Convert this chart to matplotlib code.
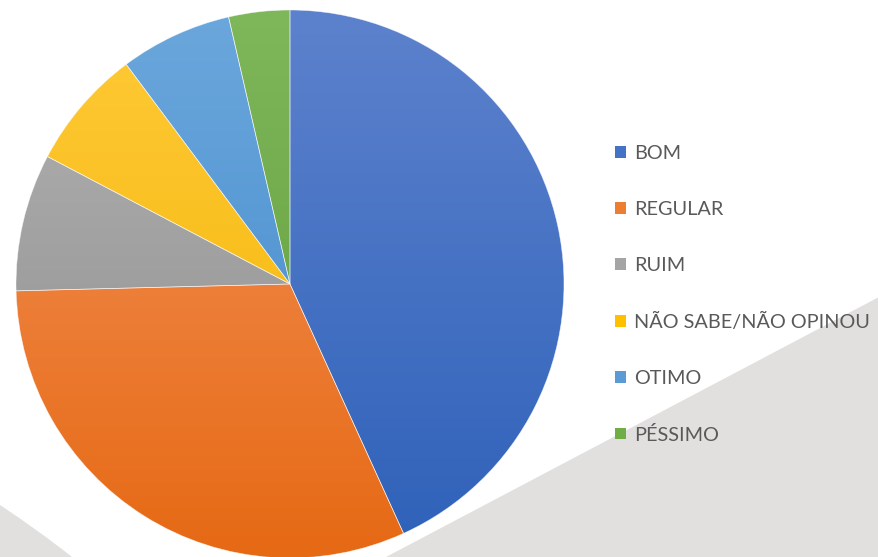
import matplotlib
matplotlib.use("Agg")
import matplotlib.pyplot as plt
import numpy as np
from matplotlib.colors import LinearSegmentedColormap
from matplotlib.patches import Patch, Polygon
from matplotlib.path import Path
from matplotlib.patches import PathPatch

labels = ["BOM", "REGULAR", "RUIM", "NÃO SABE/NÃO OPINOU", "OTIMO", "PÉSSIMO"]
shares = [43.2, 31.4, 8.1, 7.1, 6.6, 3.6]

# (top, bottom) of the vertical shading for each slice
shades = [("#5d82cd", "#2e61b9"),
          ("#f4955f", "#e66914"),
          ("#b3b3b3", "#8b8b8b"),
          ("#ffca38", "#f2b300"),
          ("#6ba7dc", "#3f87cb"),
          ("#7fb75b", "#5d9b37")]
flat = ["#4472c4", "#ed7d31", "#a5a5a5", "#ffc000", "#5b9bd5", "#70ad47"]

W, H = 879, 557
fig = plt.figure(figsize=(W / 100, H / 100), dpi=100)
fig.patch.set_facecolor("white")

# backdrop: grey swoosh behind the chart
bg = fig.add_axes([0, 0, 1, 1])
bg.set_xlim(0, W)
bg.set_ylim(H, 0)
bg.axis("off")
grey = "#e1e0de"
bg.add_patch(Polygon([(879, 297), (879, 557), (386, 557)], closed=True,
                     facecolor=grey, edgecolor="none"))
swoosh = Path([(0, 505), (38, 530), (72, 557), (0, 557), (0, 505)],
              [Path.MOVETO, Path.CURVE3, Path.CURVE3, Path.LINETO, Path.CLOSEPOLY])
bg.add_patch(PathPatch(swoosh, facecolor=grey, edgecolor="none"))

# pie, centre (290, 284) px, radius 274 px
cx, cy, r = 290, 284, 274
ax = fig.add_axes([(cx - r) / W, (H - cy - r) / H, 2 * r / W, 2 * r / H])
wedges, _ = ax.pie(shares, startangle=90, counterclock=False, radius=1,
                   wedgeprops=dict(edgecolor=(1, 1, 1, 0.6), linewidth=0.5))
ax.set_xlim(-1, 1)
ax.set_ylim(-1, 1)
ax.set_aspect("equal")
ax.axis("off")

grad = np.linspace(0, 1, 256).reshape(-1, 1)
for w, (top, bot) in zip(wedges, shades):
    cmap = LinearSegmentedColormap.from_list("s", [top, bot])
    im = ax.imshow(grad, cmap=cmap, extent=[-1, 1, -1, 1], origin="upper",
                   aspect="auto", zorder=0.5, interpolation="bilinear")
    im.set_clip_path(w)
    w.set_facecolor("none")
    w.set_zorder(1)

handles = [Patch(facecolor=c, edgecolor="none") for c in flat]
leg = fig.legend(handles, labels, loc="upper left",
                 bbox_to_anchor=(615 / W, 1 - 145 / H),
                 frameon=False, prop=dict(family="Lato", size=14.3),
                 labelcolor="#595959", handlelength=0.56, handleheight=0.52,
                 handletextpad=0.42, labelspacing=1.96, borderpad=0,
                 borderaxespad=0)

fig.savefig("out.png", dpi=100, facecolor="white")
